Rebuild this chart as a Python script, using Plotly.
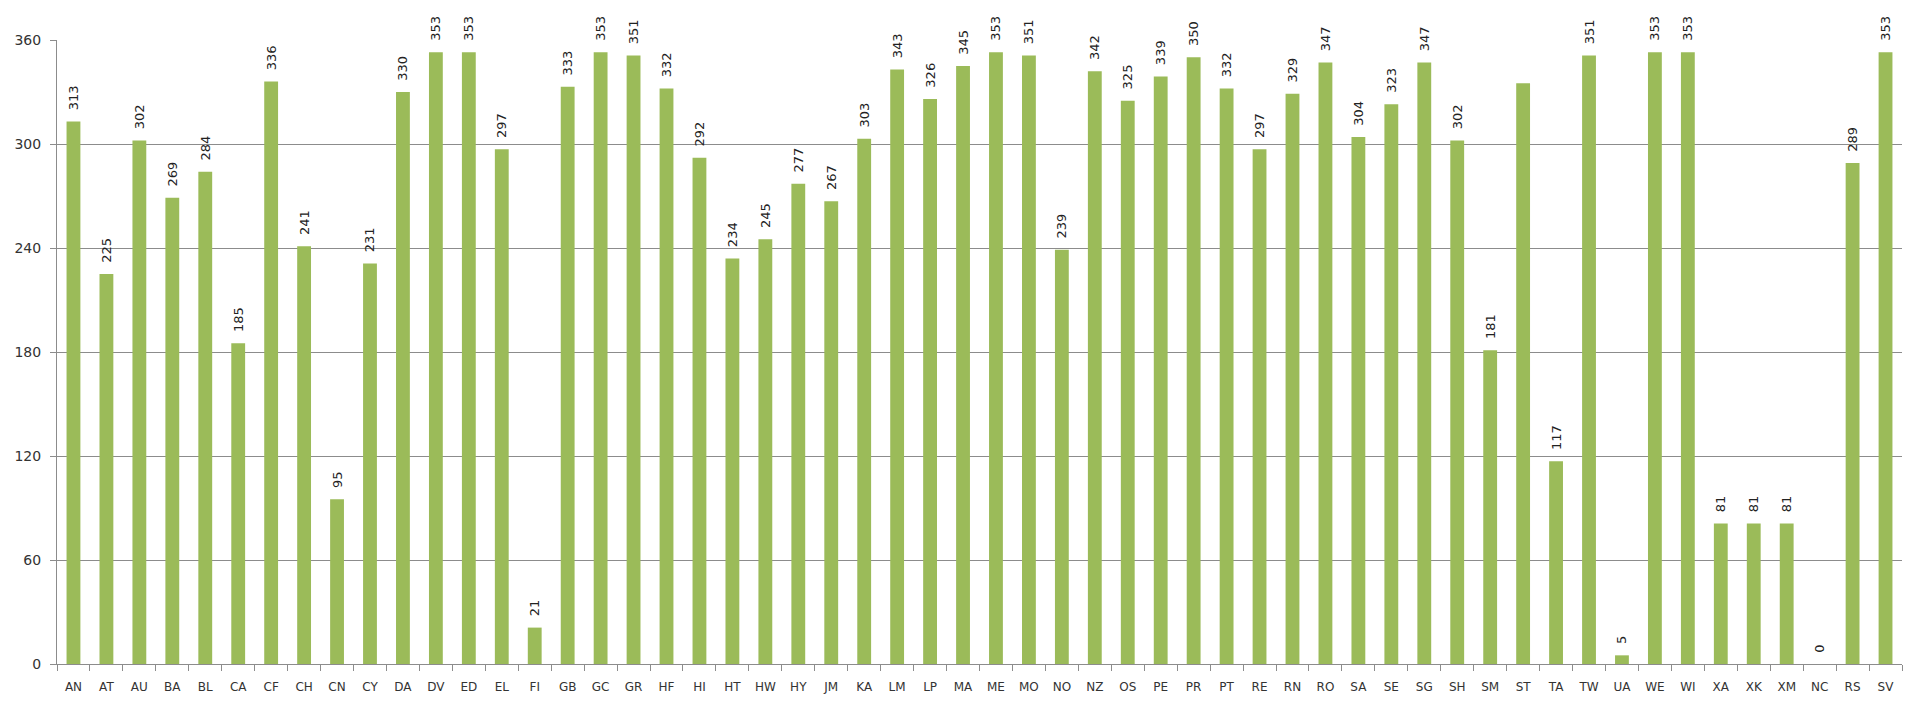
import plotly.graph_objects as go

categories = ["AN","AT","AU","BA","BL","CA","CF","CH","CN","CY","DA","DV","ED","EL","FI","GB","GC","GR","HF","HI",
              "HT","HW","HY","JM","KA","LM","LP","MA","ME","MO","NO","NZ","OS","PE","PR","PT","RE","RN","RO","SA",
              "SE","SG","SH","SM","ST","TA","TW","UA","WE","WI","XA","XK","XM","NC","RS","SV"]
values = [313,225,302,269,284,185,336,241,95,231,330,353,353,297,21,333,353,351,332,292,
          234,245,277,267,303,343,326,345,353,351,239,342,325,339,350,332,297,329,347,304,
          323,347,302,181,335,117,351,5,353,353,81,81,81,0,289,353]
# the ST bar carries no data label in the original
labels = ["" if c == "ST" else "\u00a0\u00a0" + str(v) for c, v in zip(categories, values)]
y_ticks = [0, 60, 120, 180, 240, 300, 360]

fig = go.Figure(go.Bar(
    x=categories, y=values, text=labels,
    textposition="outside", textangle=-90, constraintext="none", cliponaxis=False,
    textfont=dict(family="DejaVu Sans", size=13, color="#222222"),
    marker=dict(color="#9BBB59", line=dict(width=0)),
))
fig.update_layout(
    width=1915, height=708, plot_bgcolor="white", paper_bgcolor="white",
    margin=dict(l=57, r=13, t=40, b=44), bargap=0.58, showlegend=False,
    font=dict(family="DejaVu Sans", size=12, color="#333333"),
)
fig.update_yaxes(range=[0, 360], tickvals=y_ticks, showgrid=True, gridcolor="#8C8C8C", gridwidth=1,
                 showline=True, linecolor="#8C8C8C", ticks="outside", ticklen=6, tickcolor="#8C8C8C",
                 zeroline=False, tickfont=dict(size=14), ticklabelstandoff=6)
fig.update_xaxes(showline=True, linecolor="#8C8C8C", ticks="outside", ticklen=6, tickcolor="#8C8C8C",
                 tickson="boundaries", tickangle=0, tickfont=dict(size=12), ticklabelstandoff=12)
fig.write_html("out.html")
